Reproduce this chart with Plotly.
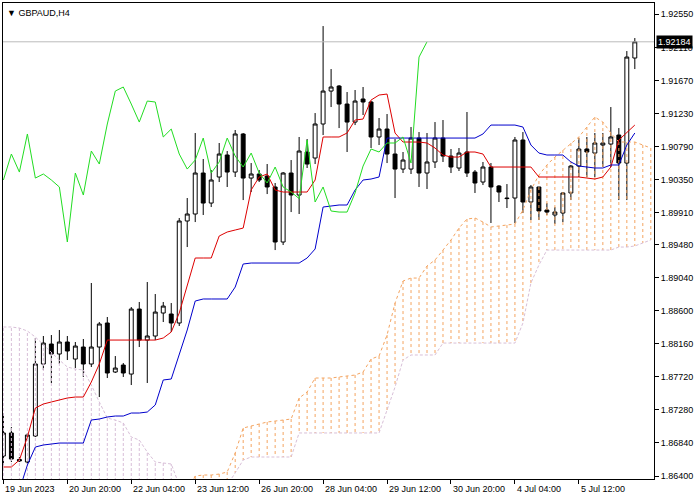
import plotly.graph_objects as go

# ---------------- data ----------------
bar_index = list(range(80))

open_ = [1.86666, 1.86973, 1.86620, 1.86586, 1.86933, 1.87892, 1.88158, 1.88025, 1.88185, 1.87958,
         1.88118, 1.87892, 1.88118, 1.88438, 1.87785, 1.87878, 1.87758, 1.88624, 1.88211, 1.88265,
         1.88571, 1.88558, 1.88438, 1.89797, 1.89890, 1.90436, 1.90036, 1.90383, 1.90676, 1.90449,
         1.90956, 1.90369, 1.90423, 1.90396, 1.90250, 1.89517, 1.90436, 1.90143, 1.90716, 1.90636,
         1.91089, 1.91528, 1.91595, 1.91355, 1.91115, 1.91422, 1.91382, 1.90916, 1.91022, 1.90689,
         1.90489, 1.90489, 1.90902, 1.90436, 1.90583, 1.90902, 1.90662, 1.90503, 1.90716, 1.90449,
         1.90316, 1.90516, 1.90263, 1.90103, 1.90103, 1.90876, 1.90050, 1.90250, 1.89943, 1.89877,
         1.89903, 1.90170, 1.90529, 1.90756, 1.90702, 1.90809, 1.90822, 1.90942, 1.90569, 1.91968]

high = [1.87239, 1.87052, 1.86653, 1.86973, 1.88238, 1.88265, 1.88278, 1.88345, 1.88265, 1.88185,
        1.88225, 1.88971, 1.88451, 1.88518, 1.87998, 1.87905, 1.88651, 1.88718, 1.88984, 1.88824,
        1.88718, 1.88704, 1.89837, 1.90103, 1.90969, 1.90623, 1.90476, 1.90836, 1.90729, 1.91009,
        1.90969, 1.90569, 1.90476, 1.90556, 1.90303, 1.90449, 1.90609, 1.90916, 1.90889, 1.91235,
        1.92394, 1.91821, 1.91608, 1.91515, 1.91542, 1.91582, 1.91395, 1.91169, 1.91222, 1.90889,
        1.90716, 1.91049, 1.90982, 1.90969, 1.91115, 1.91142, 1.90756, 1.90769, 1.91249, 1.90476,
        1.90583, 1.90569, 1.90276, 1.90289, 1.90916, 1.90982, 1.90276, 1.90250, 1.90036, 1.89983,
        1.90183, 1.90543, 1.90902, 1.90916, 1.90969, 1.90969, 1.91315, 1.91035, 1.92061, 1.92234]

low = [1.86546, 1.86586, 1.86586, 1.86560, 1.86919, 1.87812, 1.87639, 1.87892, 1.87945, 1.87838,
       1.87719, 1.87852, 1.87452, 1.87705, 1.87772, 1.87719, 1.87612, 1.88118, 1.87639, 1.88211,
       1.88451, 1.88318, 1.88398, 1.89450, 1.89783, 1.89877, 1.89983, 1.90316, 1.90250, 1.90383,
       1.90076, 1.90183, 1.90316, 1.90156, 1.89410, 1.89477, 1.89916, 1.89890, 1.90503, 1.90556,
       1.90942, 1.91315, 1.91035, 1.90716, 1.91075, 1.91209, 1.90769, 1.90809, 1.90569, 1.90103,
       1.90436, 1.90423, 1.90250, 1.90223, 1.90503, 1.90583, 1.90436, 1.90463, 1.90383, 1.90170,
       1.90276, 1.89770, 1.90050, 1.89970, 1.89770, 1.89903, 1.89810, 1.89810, 1.89877, 1.89757,
       1.89783, 1.90076, 1.90383, 1.90383, 1.90383, 1.90516, 1.90516, 1.90076, 1.90076, 1.91821]

close = [1.86973, 1.86626, 1.86600, 1.86946, 1.87892, 1.88171, 1.88025, 1.88185, 1.88065, 1.88131,
         1.87892, 1.88118, 1.88425, 1.87772, 1.87838, 1.87772, 1.88624, 1.88211, 1.88265, 1.88584,
         1.88664, 1.88438, 1.89797, 1.89890, 1.90436, 1.90036, 1.90343, 1.90689, 1.90449, 1.90956,
         1.90369, 1.90423, 1.90343, 1.90250, 1.89517, 1.90436, 1.90143, 1.90729, 1.90556, 1.91089,
         1.91528, 1.91582, 1.91355, 1.91115, 1.91395, 1.91382, 1.90916, 1.91022, 1.90689, 1.90489,
         1.90609, 1.90902, 1.90436, 1.90583, 1.90902, 1.90662, 1.90516, 1.90702, 1.90436, 1.90303,
         1.90516, 1.90250, 1.90183, 1.90096, 1.90876, 1.90050, 1.90250, 1.89930, 1.89916, 1.89916,
         1.90170, 1.90529, 1.90756, 1.90716, 1.90836, 1.90836, 1.90916, 1.90569, 1.91981, 1.92184]

tenkan = [1.86520, 1.86520, 1.86613, 1.86919, 1.87306, 1.87359, 1.87386, 1.87412, 1.87439, 1.87452,
          1.87452, 1.87652, 1.87892, 1.88211, 1.88211, 1.88211, 1.88211, 1.88211, 1.88211, 1.88211,
          1.88238, 1.88318, 1.88571, 1.88944, 1.89304, 1.89304, 1.89304, 1.89597, 1.89650, 1.89677,
          1.89703, 1.90210, 1.90383, 1.90423, 1.90210, 1.90183, 1.90183, 1.90183, 1.90183, 1.90343,
          1.90916, 1.90916, 1.90916, 1.90969, 1.91142, 1.91155, 1.91408, 1.91475, 1.91488, 1.90969,
          1.90849, 1.90849, 1.90849, 1.90836, 1.90769, 1.90676, 1.90649, 1.90649, 1.90716, 1.90716,
          1.90689, 1.90516, 1.90516, 1.90516, 1.90516, 1.90516, 1.90516, 1.90383, 1.90383, 1.90383,
          1.90383, 1.90383, 1.90383, 1.90369, 1.90356, 1.90383, 1.90516, 1.90876, 1.90982, 1.91075]

kijun = [1.85947, 1.86013, 1.86213, 1.86546, 1.86786, 1.86813, 1.86826, 1.86839, 1.86839, 1.86839,
         1.86839, 1.87146, 1.87159, 1.87186, 1.87199, 1.87199, 1.87239, 1.87239, 1.87252, 1.87346,
         1.87679, 1.87692, 1.88012, 1.88345, 1.88731, 1.88758, 1.88758, 1.88758, 1.88758, 1.88917,
         1.89224, 1.89237, 1.89237, 1.89237, 1.89237, 1.89237, 1.89237, 1.89237, 1.89304, 1.89424,
         1.89983, 1.89996, 1.90010, 1.90010, 1.90210, 1.90343, 1.90356, 1.90383, 1.90902, 1.90902,
         1.90902, 1.90902, 1.90902, 1.90902, 1.90902, 1.90902, 1.90902, 1.90902, 1.90902, 1.90902,
         1.90956, 1.91075, 1.91075, 1.91075, 1.91075, 1.91049, 1.90809, 1.90702, 1.90676, 1.90676,
         1.90676, 1.90583, 1.90529, 1.90516, 1.90503, 1.90503, 1.90543, 1.90543, 1.90809, 1.90969]

# Senkou spans run two bars past the last candle
span_a = [1.86200, 1.86200, 1.86200, 1.86200, 1.86200, 1.86200, 1.86200, 1.86200, 1.86200, 1.86200,
          1.86200, 1.86200, 1.86200, 1.86200, 1.86200, 1.86200, 1.86200, 1.86200, 1.86200, 1.86200,
          1.86200, 1.86200, 1.86200, 1.86200, 1.86400, 1.86413, 1.86413, 1.86426, 1.86453, 1.86706,
          1.87039, 1.87066, 1.87092, 1.87119, 1.87132, 1.87146, 1.87159, 1.87439, 1.87519, 1.87705,
          1.87705, 1.87705, 1.87719, 1.87732, 1.87745, 1.87785, 1.87958, 1.87998, 1.88278, 1.88704,
          1.88997, 1.89037, 1.89037, 1.89197, 1.89277, 1.89410, 1.89544, 1.89703, 1.89823, 1.89837,
          1.89783, 1.89717, 1.89730, 1.89743, 1.89757, 1.89943, 1.90210, 1.90409, 1.90543, 1.90649,
          1.90742, 1.90836, 1.90916, 1.91049, 1.91182, 1.91115, 1.90969, 1.90849, 1.90849, 1.90849,
          1.90809, 1.90769]

span_b = [1.88385, 1.88385, 1.88371, 1.88331, 1.88251, 1.88145, 1.88052, 1.87945, 1.87852, 1.87825,
          1.87812, 1.87612, 1.87386, 1.87172, 1.87146, 1.87106, 1.86919, 1.86879, 1.86719, 1.86586,
          1.86573, 1.86560, 1.86280, 1.86213, 1.86213, 1.86280, 1.86280, 1.86280, 1.86280, 1.86440,
          1.86613, 1.86653, 1.86653, 1.86653, 1.86653, 1.86653, 1.86653, 1.86973, 1.86973, 1.86973,
          1.86973, 1.86973, 1.86973, 1.86973, 1.86973, 1.86973, 1.86973, 1.86973, 1.87279, 1.87585,
          1.87945, 1.88012, 1.88012, 1.88012, 1.88012, 1.88171, 1.88171, 1.88171, 1.88171, 1.88171,
          1.88171, 1.88171, 1.88171, 1.88171, 1.88171, 1.88438, 1.88971, 1.89210, 1.89410, 1.89410,
          1.89410, 1.89410, 1.89410, 1.89410, 1.89410, 1.89410, 1.89410, 1.89450, 1.89450, 1.89464,
          1.89504, 1.89544]

chikou_shift = 26

x_tick_pos = [0, 8, 16, 24, 32, 40, 48, 56, 64, 72]
x_tick_labels = ["19 Jun 2023", "20 Jun 20:00", "22 Jun 04:00", "23 Jun 12:00", "26 Jun 20:00",
                 "28 Jun 04:00", "29 Jun 12:00", "30 Jun 20:00", "4 Jul 04:00", "5 Jul 12:00"]

y_tick_vals = [1.92550, 1.92110, 1.91670, 1.91230, 1.90790, 1.90350, 1.89910, 1.89480,
               1.89040, 1.88600, 1.88160, 1.87720, 1.87280, 1.86840, 1.86400]
y_tick_text = ["1.92550", "1.92110", "1.91670", "1.91230", "1.90790", "1.90350", "1.89910", "1.89480",
               "1.89040", "1.88600", "1.88160", "1.87720", "1.87280", "1.86840", "1.86400"]

last_price = 1.92184
symbol_title = "GBPAUD,H4"

# ---------------- figure ----------------
FONT = "Liberation Sans, Arial, sans-serif"
SANDY = "#F4A460"
THISTLE = "#D8BFD8"

fig = go.Figure()

cloud_idx = list(range(len(span_a)))
sx, sy, tx, ty = [], [], [], []
for k, a, b in zip(cloud_idx, span_a, span_b):
    if a >= b:
        sx += [k, k, None]; sy += [a, b, None]
    else:
        tx += [k, k, None]; ty += [a, b, None]

fig.add_trace(go.Scatter(x=tx, y=ty, mode="lines", hoverinfo="skip",
                         line=dict(color=THISTLE, width=1, dash="3px,2px")))
fig.add_trace(go.Scatter(x=sx, y=sy, mode="lines", hoverinfo="skip",
                         line=dict(color=SANDY, width=1, dash="3px,3px")))
fig.add_trace(go.Scatter(x=cloud_idx, y=span_b, mode="lines", hoverinfo="skip",
                         line=dict(color=THISTLE, width=1, dash="3px,2px")))
fig.add_trace(go.Scatter(x=cloud_idx, y=span_a, mode="lines", hoverinfo="skip",
                         line=dict(color=SANDY, width=1, dash="3px,3px")))

fig.add_trace(go.Candlestick(
    x=bar_index, open=open_, high=high, low=low, close=close,
    increasing=dict(line=dict(color="black", width=1), fillcolor="white"),
    decreasing=dict(line=dict(color="black", width=1), fillcolor="black"),
    whiskerwidth=0, hoverinfo="skip"))

fig.add_trace(go.Scatter(x=bar_index, y=tenkan, mode="lines",
                         line=dict(color="#DD0000", width=1)))
fig.add_trace(go.Scatter(x=bar_index, y=kijun, mode="lines",
                         line=dict(color="#0000CC", width=1)))
fig.add_trace(go.Scatter(x=bar_index[:len(close) - chikou_shift], y=close[chikou_shift:],
                         mode="lines", line=dict(color="#22DD22", width=1)))

# bid line
fig.add_shape(type="line", xref="paper", x0=0, x1=1, yref="y", y0=last_price, y1=last_price,
              line=dict(color="#BBBBBB", width=1))

annotations = []
for pos, lab in zip(x_tick_pos, x_tick_labels):
    annotations.append(dict(x=pos, xref="x", y=0, yref="paper", text=lab, showarrow=False,
                            xanchor="left", yanchor="top", xshift=0, yshift=-3,
                            font=dict(family=FONT, size=9, color="black")))
annotations.append(dict(x=1, xref="paper", y=last_price, yref="y", text=f"{last_price:.5f}",
                        showarrow=False, xanchor="left", yanchor="middle", xshift=2,
                        bgcolor="black", borderpad=1,
                        font=dict(family=FONT, size=9, color="white")))
annotations.append(dict(x=0, xref="paper", y=1, yref="paper", text="▼ " + symbol_title,
                        showarrow=False, xanchor="left", yanchor="top", xshift=2, yshift=-3,
                        font=dict(family=FONT, size=9, color="black")))

fig.update_layout(
    width=700, height=500,
    margin=dict(l=3, r=46, t=3, b=21),
    paper_bgcolor="white", plot_bgcolor="white",
    showlegend=False,
    annotations=annotations,
    xaxis=dict(range=[-0.05, 81.4], rangeslider=dict(visible=False), showgrid=False,
               zeroline=False, showline=True, mirror=True, linecolor="black", linewidth=1,
               ticks="outside", ticklen=4, tickcolor="black", tickvals=x_tick_pos,
               showticklabels=False),
    yaxis=dict(range=[1.86360, 1.92701], side="right", showgrid=False, zeroline=False,
               showline=True, mirror=True, linecolor="black", linewidth=1,
               ticks="outside", ticklen=4, tickcolor="black",
               tickvals=y_tick_vals, ticktext=y_tick_text,
               tickfont=dict(family=FONT, size=9, color="black")),
)

fig.write_html("out.html",
               config={"displayModeBar": False},
               post_script="document.body.style.margin='0';document.body.style.overflow='hidden';")
